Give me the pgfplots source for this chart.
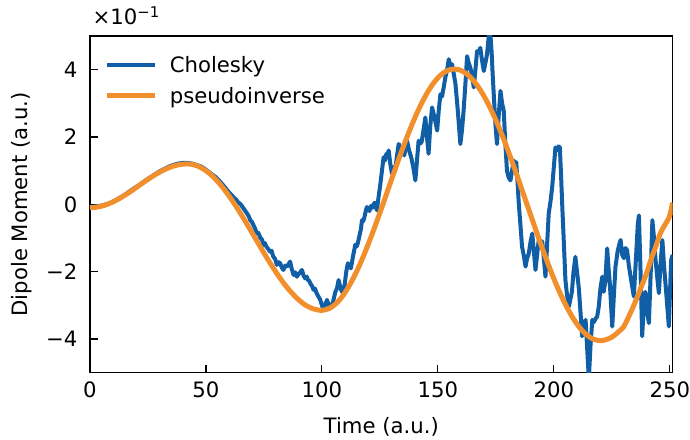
\documentclass[border=0pt]{standalone}
\usepackage{fontspec}
\setmainfont{DejaVu Sans}
\usepackage{pgfplots}
\pgfplotsset{compat=1.18}
\definecolor{cblue}{RGB}{16,94,166}
\definecolor{corange}{RGB}{242,143,45}
\begin{document}
\begin{tikzpicture}[font=\fontsize{21.2bp}{25bp}\selectfont]
\begin{axis}[
 scale only axis, width=582.7bp, height=336.7bp,
 xmin=0, xmax=251.2, ymin=-5, ymax=5,
 xtick={0,50,100,150,200,250}, xticklabels={0,50,100,150,200,250},
 ytick={-4,-2,0,2,4}, yticklabels={−4,−2,0,2,4},
 tick pos=left, tick align=inside,
 major tick length=8bp,
 every tick/.style={black, line width=1.2bp},
 axis line style={line width=1.3bp},
 /pgf/number format/assume math mode=true,
 xticklabel style={inner sep=0pt, yshift=-9bp},
 yticklabel style={inner sep=0pt, xshift=-12.5bp},
 xlabel={Time (a.u.)}, ylabel={Dipole Moment (a.u.)},
 every axis x label/.style={at={(rel axis cs:0.5,0)}, yshift=-54bp, anchor=center},
 every axis y label/.style={at={(rel axis cs:0,0.5)}, xshift=-68bp, rotate=90, anchor=center},
 legend style={draw=none, fill=none, at={(rel axis cs:0.02,0.945)}, anchor=north west, row sep=15bp,
   nodes={inner sep=0pt, text depth=0pt}, column sep=0pt},
 legend cell align=left,
 legend image code/.code={\draw[#1] (0bp,0bp) -- (48bp,0bp); \path (60bp,0bp);},
]
\coordinate (ll) at (rel axis cs:0,0);
\coordinate (ur) at (rel axis cs:1,1);
\coordinate (ul) at (rel axis cs:0,1);
\addplot[cblue, line width=4bp, line join=round] table {
0 -0.08
2 -0.07
4 -0.05
6 -0.02
8 0.02
10 0.08
12 0.16
14 0.24
16 0.33
18 0.43
20 0.52
22 0.61
24 0.71
26 0.80
28 0.89
30 0.98
32 1.05
34 1.12
36 1.17
38 1.21
40 1.23
42 1.23
44 1.21
46 1.17
48 1.12
50 1.03
52 0.92
54 0.82
56 0.68
58 0.52
60 0.35
61 0.28
62 0.2
63 0.14
64 0.05
64.7 0.02
65.5 -0.05
66.2 -0.12
67 -0.2
67.8 -0.28
68.5 -0.36
69.1 -0.47
69.8 -0.52
70.5 -0.62
71.2 -0.72
71.9 -0.87
72.6 -0.85
73.5 -1.0
74.2 -1.05
74.8 -1.21
75.4 -1.15
76 -1.25
76.8 -1.32
77.7 -1.41
78.3 -1.38
79 -1.55
79.8 -1.62
80.6 -1.80
81.3 -1.72
82 -1.75
82.7 -1.88
83.4 -1.95
84.2 -1.82
85 -1.85
85.6 -1.78
86.3 -1.70
87 -1.92
87.8 -2.10
88.5 -2.02
89.2 -2.15
89.8 -2.08
90.3 -2.05
91.4 -1.95
92.1 -2.12
92.8 -2.20
93.5 -2.15
94 -2.25
94.6 -2.28
95 -2.35
95.7 -2.42
96.4 -2.54
97 -2.5
97.5 -2.6
98 -2.68
98.5 -2.74
99.2 -2.82
100 -2.99
100.5 -3.1
101 -3.05
101.6 -2.95
102.2 -2.84
102.9 -2.98
103.6 -3.08
104.2 -3.0
104.8 -2.9
105.3 -2.75
105.8 -2.6
106.5 -2.5
107.2 -2.25
107.9 -2.45
108.6 -2.6
109.2 -2.5
109.8 -2.4
110.5 -2.0
111.2 -1.75
111.8 -1.85
112.5 -1.9
113.4 -1.55
114.4 -1.2
115 -1.25
115.5 -1.15
116.3 -0.9
116.8 -0.75
117.3 -0.47
117.8 -0.5
118.3 -0.4
118.9 -0.2
119.4 -0.08
120 -0.15
120.5 -0.2
121.2 -0.05
121.8 -0.1
122.3 0.0
122.8 0.05
123.2 -0.05
123.7 -0.18
124.4 0.2
125.2 0.6
125.9 1.0
126.6 1.4
127.2 1.3
127.8 1.5
128.3 1.45
128.8 1.6
129.5 1.2
130.2 0.91
130.8 1.1
131.5 1.0
132.3 1.4
133.1 1.79
133.8 1.7
134.5 1.65
135 1.55
135.5 1.45
136.1 1.7
136.7 1.89
137.6 1.6
138.5 1.4
139.4 1.1
140.3 0.71
141 1.3
141.7 1.89
142.3 1.8
143 1.85
143.8 2.2
144.6 2.58
145.3 2.0
146 1.5
146.7 2.3
147.5 2.88
148.5 2.6
149.1 2.4
149.7 2.19
150.4 2.8
151.1 3.27
151.8 3.2
152.5 3.47
153.2 3.76
154 4.0
154.7 4.31
155.4 4.1
156.1 4.16
156.8 3.9
157.6 3.57
158.7 2.7
159.7 1.79
160.4 2.2
161.1 2.78
161.9 3.6
162.6 4.40
163.3 4.2
164 4.06
164.8 3.8
165.5 3.47
166.2 4.0
166.9 4.55
167.6 4.5
168.3 4.65
169 4.3
169.8 3.96
170.5 4.2
171.2 4.45
171.8 4.9
172.3 5.2
172.8 4.9
173.2 4.5
173.6 3.9
174.1 3.27
174.8 2.4
175.5 1.79
176.2 2.6
177 3.37
177.7 3.0
178.4 2.78
179.1 1.8
179.8 1.0
180.5 0.8
181.3 0.71
182 1.0
182.7 1.30
183.3 1.2
183.8 1.25
184.4 0.6
184.9 0.02
185.6 -0.6
186.3 -1.26
187 -1.5
187.8 -1.85
188.5 -1.6
189.2 -1.46
190 -1.1
190.7 -0.87
191.4 -1.4
192.1 -1.95
192.8 -1.5
193.5 -1.06
194.3 -1.2
195 -1.1
195.7 -1.6
196.4 -2.15
197.1 -1.2
197.8 -0.28
198.6 0.1
199.3 0.51
200 1.1
200.7 1.69
201.3 1.6
202 1.72
202.6 1.69
203.1 0.9
203.6 0.02
204.3 -1.1
205 -2.25
205.7 -2.7
206.5 -3.04
207.2 -2.8
207.8 -2.6
208.5 -2.0
209.3 -1.56
210 -2.0
210.8 -2.5
211.5 -3.2
212.2 -3.92
213 -3.6
213.7 -3.43
214.4 -4.3
215.1 -5.2
215.8 -4.22
216.6 -3.43
217.3 -3.5
218 -3.4
218.7 -3.33
219.4 -3.03
220.1 -2.5
220.9 -2.15
221.5 -2.6
222.2 -2.3
223 -1.31
223.6 -1.9
224.2 -2.4
225.2 -3.63
225.9 -2.7
226.6 -1.85
227.5 -1.4
228.2 -1.2
228.8 -1.06
229.5 -1.5
230.2 -1.6
230.9 -1.3
231.6 -1.36
232.3 -1.8
233 -2.1
234.5 -2.74
235.5 -1.5
236.2 -0.6
236.7 -0.33
237.4 -2.0
238.1 -3.92
238.8 -3.0
239.5 -2.6
240.2 -3.2
241 -3.53
241.8 -2.0
242.5 -0.47
243.2 -1.0
243.8 -1.6
244.5 -2.1
245.3 -2.64
246 -1.8
246.8 -1.06
247.5 -1.8
248.2 -2.4
249 -3.1
249.6 -3.63
250.1 -2.6
250.6 -1.66
251.2 -1.5
};
\addlegendentry{Cholesky}
\addplot[corange, line width=5bp, line join=round, smooth] table {
0 -0.10
3 -0.084
6 -0.036
9 0.042
12 0.145
15 0.268
18 0.405
21 0.55
24 0.695
27 0.832
30 0.955
33 1.058
36 1.136
39 1.184
42 1.20
45 1.171
48 1.086
51 0.947
54 0.756
57 0.521
60 0.245
63 -0.061
66 -0.393
69 -0.740
72 -1.093
75 -1.443
78 -1.780
81 -2.096
84 -2.384
87 -2.631
90 -2.839
93 -2.998
96 -3.100
99 -3.147
100 -3.15
103 -3.101
106 -2.956
109 -2.718
112 -2.394
115 -1.992
118 -1.524
121 -1.004
124 -0.445
127 0.139
130 0.731
133 1.315
136 1.874
139 2.394
142 2.862
145 3.264
148 3.588
151 3.826
154 3.971
157 4.02
160 3.975
163 3.841
166 3.621
169 3.319
172 2.943
175 2.501
178 2.003
181 1.458
184 0.883
187 0.286
190 -0.316
193 -0.913
196 -1.488
199 -2.033
202 -2.531
205 -2.973
208 -3.349
211 -3.651
214 -3.871
217 -4.005
220 -4.05
222 -4.03
224 -3.98
226 -3.90
228 -3.78
230 -3.65
232 -3.38
234 -3.08
236 -2.75
238 -2.40
240 -2.05
242 -1.62
244 -1.25
246 -0.85
248 -0.60
249.5 -0.42
250.5 -0.20
251.2 0.05
};
\addlegendentry{pseudoinverse}
\end{axis}
\node[anchor=base west, inner sep=0pt] at ([shift={(2.5bp,11bp)}]ul) {×10\textsuperscript{−1}};
\path ([shift={(-90bp,-66.3bp)}]ll) rectangle ([shift={(17.3bp,36bp)}]ur);
\end{tikzpicture}
\end{document}
